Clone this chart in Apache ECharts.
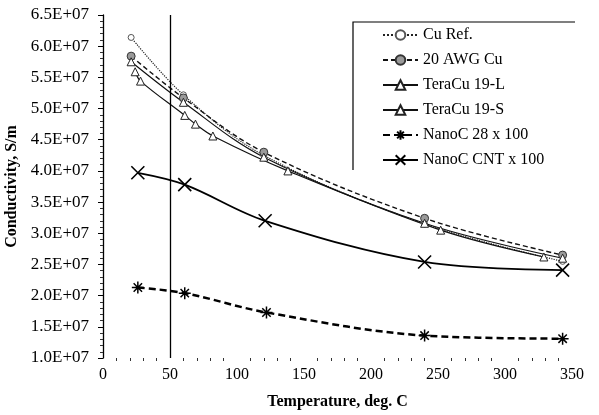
<!DOCTYPE html>
<html>
<head>
<meta charset="utf-8">
<script src="https://cdn.jsdelivr.net/npm/echarts@6/dist/echarts.min.js"></script>
<style>
html,body{margin:0;padding:0;background:#fff;}
#c{width:599px;height:415px;}
</style>
</head>
<body>
<div id="c"></div>
<script>
// Data (conductivity in units of 1E7 S/m)
const seriesNames = ["Cu Ref.", "20 AWG Cu", "TeraCu 19-L", "TeraCu 19-S", "NanoC 28 x 100", "NanoC CNT x 100"];
const cuRefT = [21, 60, 120, 240, 343];
const cuRefV = [6.14, 5.22, 4.25, 3.15, 2.55];
const awg20T = [21, 60, 120, 240, 343];
const awg20V = [5.84, 5.17, 4.30, 3.24, 2.65];
const tera19LT = [21, 60, 120, 240, 343];
const tera19LV = [5.75, 5.10, 4.22, 3.16, 2.60];
const tera19ST = [24, 28, 61, 69, 82, 138, 252, 329];
const tera19SV = [5.59, 5.44, 4.89, 4.75, 4.56, 4.00, 3.05, 2.62];
const nano28T = [26, 61, 122, 240, 343];
const nano28V = [2.13, 2.04, 1.73, 1.36, 1.31];
const nanoCntT = [26, 61, 121, 240, 343];
const nanoCntV = [3.97, 3.78, 3.20, 2.54, 2.41];
const refTemperature = 50;
const yTickValues = [1.0, 1.5, 2.0, 2.5, 3.0, 3.5, 4.0, 4.5, 5.0, 5.5, 6.0, 6.5];
const xTickValues = [0, 50, 100, 150, 200, 250, 300, 350];

const SCALE = 1e7;
const pts = (t, v) => t.map((x, i) => [x, v[i] * SCALE]);
const FONT = '"Liberation Serif", "DejaVu Serif", serif';
const asterisk = 'path://M0 5 L10 5 M5 0 L5 10 M1.5 1.5 L8.5 8.5 M8.5 1.5 L1.5 8.5';
const cross = 'path://M0 0 L10 10 M10 0 L0 10';

const chart = echarts.init(document.getElementById('c'), null, {renderer: 'canvas'});
const option = {
  animation: false,
  backgroundColor: '#fff',
  grid: {left: 103, right: 27, top: 15, bottom: 57, containLabel: false, outerBoundsMode: 'none'},
  xAxis: {
    type: 'value',
    min: xTickValues[0], max: xTickValues[xTickValues.length - 1], interval: 50,
    name: 'Temperature, deg. C', nameLocation: 'middle', nameGap: 36,
    nameTextStyle: {fontFamily: FONT, fontSize: 16, fontWeight: 'bold', color: '#000'},
    axisLine: {show: false},
    axisTick: {show: false},
    minorTick: {show: true, splitNumber: 5, length: 3, lineStyle: {color: '#333', width: 1}},
    splitLine: {show: false},
    minorSplitLine: {show: false},
    axisLabel: {fontFamily: FONT, fontSize: 16, color: '#000', margin: 9}
  },
  yAxis: {
    type: 'value',
    min: yTickValues[0] * SCALE, max: yTickValues[yTickValues.length - 1] * SCALE, interval: 0.5 * SCALE,
    name: 'Conductivity, S/m', nameLocation: 'middle', nameGap: 80,
    nameTextStyle: {fontFamily: FONT, fontSize: 16, fontWeight: 'bold', color: '#000'},
    axisLine: {show: true, lineStyle: {color: '#000', width: 1.3}},
    axisTick: {show: true, length: 5, lineStyle: {color: '#000'}},
    minorTick: {show: true, splitNumber: 5, length: 3, lineStyle: {color: '#333'}},
    splitLine: {show: false},
    axisLabel: {fontFamily: FONT, fontSize: 17, color: '#000', margin: 14,
      formatter: v => (v / SCALE).toFixed(1) + 'E+07'}
  },
  legend: {
    orient: 'vertical', left: 377, top: 22,
    itemWidth: 35, itemHeight: 12, itemGap: 9,
    textStyle: {fontFamily: FONT, fontSize: 16, color: '#000'},
    data: seriesNames
  },
  graphic: [
    {type: 'polyline', z: 100, shape: {points: [[353, 170], [353, 22], [575, 22]]},
     style: {stroke: '#000', lineWidth: 1.2, fill: null}}
  ],
  series: [
    {name: seriesNames[0], type: 'line', data: pts(cuRefT, cuRefV), smooth: 0.35,
     symbol: 'circle', symbolSize: 6,
     itemStyle: {color: '#fff', borderColor: '#555', borderWidth: 1},
     lineStyle: {color: '#222', width: 1.2, type: 'dotted'},
     markLine: {silent: true, symbol: 'none', label: {show: false},
       lineStyle: {color: '#000', width: 1.3, type: 'solid'},
       data: [{xAxis: refTemperature}]}},
    {name: seriesNames[1], type: 'line', data: pts(awg20T, awg20V), smooth: 0.35,
     symbol: 'circle', symbolSize: 8,
     itemStyle: {color: '#9a9a9a', borderColor: '#333', borderWidth: 1},
     lineStyle: {color: '#111', width: 1.4, type: [5, 3]}},
    {name: seriesNames[2], type: 'line', data: pts(tera19LT, tera19LV), smooth: 0.35,
     symbol: 'triangle', symbolSize: 8,
     itemStyle: {color: '#fff', borderColor: '#222', borderWidth: 1},
     lineStyle: {color: '#111', width: 1.2, type: 'solid'}},
    {name: seriesNames[3], type: 'line', data: pts(tera19ST, tera19SV), smooth: 0.35,
     symbol: 'triangle', symbolSize: 8,
     itemStyle: {color: '#fff', borderColor: '#222', borderWidth: 1},
     lineStyle: {color: '#111', width: 1.2, type: 'solid'}},
    {name: seriesNames[4], type: 'line', data: pts(nano28T, nano28V), smooth: 0.35,
     symbol: asterisk, symbolSize: 12,
     itemStyle: {color: 'none', borderColor: '#000', borderWidth: 1.5},
     lineStyle: {color: '#000', width: 2.5, type: [7, 4]}},
    {name: seriesNames[5], type: 'line', data: pts(nanoCntT, nanoCntV), smooth: 0.35,
     symbol: cross, symbolSize: 13,
     itemStyle: {color: 'none', borderColor: '#000', borderWidth: 1.6},
     lineStyle: {color: '#000', width: 1.8, type: 'solid'}}
  ]
};
chart.setOption(option);
</script>
</body>
</html>
